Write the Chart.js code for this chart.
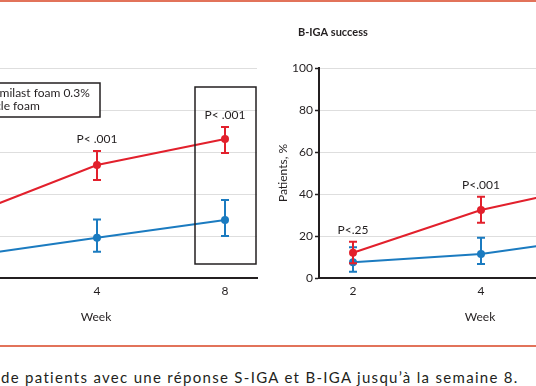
<!DOCTYPE html>
<html>
<head>
<meta charset="utf-8">
<script src="https://cdn.jsdelivr.net/npm/chart.js@4.4.1/dist/chart.umd.min.js"></script>
<style>
  html, body { margin: 0; padding: 0; background: #fff; }
  body { width: 536px; height: 386px; overflow: hidden; position: relative; font-family: Lato, "Open Sans", sans-serif; color: #231f20; }
  .rule { position: absolute; left: 0; width: 536px; height: 2px; background: #e2735a; }
  canvas { position: absolute; top: 0; }
  #caption { position: absolute; left: 1px; top: 368px; font-size: 15px; letter-spacing: 1.3px; white-space: nowrap; }
</style>
</head>
<body>
<div class="rule" style="top:0"></div>
<canvas id="sigaChart" width="372" height="330" style="left:-114px"></canvas>
<canvas id="bigaChart" width="372" height="330" style="left:270px"></canvas>
<div class="rule" style="top:345px"></div>
<div id="caption">de patients avec une réponse S-IGA et B-IGA jusqu’à la semaine 8.</div>

<script>
// weeks on the x axis (drawn at equal spacing)
const weeks = ["2", "4", "8"];
const yTicks = [0, 20, 40, 60, 80, 100];

// S-IGA success (left panel)
const sigaRoflu = [30, 53.8, 66.2];
const sigaRofluLow = [24, 46.7, 59.5];
const sigaRofluHigh = [36, 60.5, 71.9];
const sigaVehicle = [10.5, 19.2, 27.6];
const sigaVehicleLow = [6.5, 12.5, 20];
const sigaVehicleHigh = [15, 27.9, 37.1];
const sigaP = ["", "P< .001", "P< .001"];

// B-IGA success (right panel)
const bigaRoflu = [12, 32.4, 45.7];
const bigaRofluLow = [7, 26.3, 39];
const bigaRofluHigh = [17.3, 38.7, 52];
const bigaVehicle = [7.5, 11.4, 20];
const bigaVehicleLow = [3, 6.7, 13];
const bigaVehicleHigh = [14.6, 19.2, 27];
const bigaP = ["P<.25", "P<.001", "P<.001"];

const RED = "#e2202c";
const BLUE = "#1b7bc0";
const INK = "#231f20";
const FONT = "Lato, 'Open Sans', sans-serif";

/**
 * Draws panel title, error bars, p-values, legend and highlight box
 */
const panelDecor = {
  id: "panelDecor",
  afterDatasetDraw(chart, args) {
    const ds = chart.data.datasets[args.index];
    const x = chart.scales.x;
    const y = chart.scales.y;
    const ctx = chart.ctx;
    ctx.save();
    ctx.strokeStyle = ds.borderColor;
    ctx.lineWidth = 2;
    ds.data.forEach((pt, i) => {
      const px = x.getPixelForValue(pt.x);
      const top = y.getPixelForValue(ds.errHigh[i]);
      const bot = y.getPixelForValue(ds.errLow[i]);
      ctx.beginPath();
      ctx.moveTo(px, top); ctx.lineTo(px, bot);
      ctx.moveTo(px - 4, top); ctx.lineTo(px + 4, top);
      ctx.moveTo(px - 4, bot); ctx.lineTo(px + 4, bot);
      ctx.stroke();
    });
    ctx.restore();
  },
  afterDraw(chart, args, opts) {
    const ctx = chart.ctx;
    const area = chart.chartArea;
    const x = chart.scales.x;
    const y = chart.scales.y;
    ctx.save();

    // title
    ctx.fillStyle = INK;
    ctx.font = "bold 11px " + FONT;
    ctx.textBaseline = "middle";
    ctx.textAlign = "left";
    ctx.fillText(opts.title, area.left - 21, 32);

    // p-values above the highest error bar
    ctx.font = "12px " + FONT;
    ctx.textAlign = "center";
    opts.pValues.forEach((label, i) => {
      if (!label) return;
      const high = Math.max(...chart.data.datasets.map(d => d.errHigh[i]));
      ctx.fillText(label, x.getPixelForValue(i), y.getPixelForValue(high) - 12);
    });

    // highlight box around last week
    if (opts.box) {
      const cx = x.getPixelForValue(weeks.length - 1);
      ctx.strokeStyle = INK;
      ctx.lineWidth = 1.5;
      ctx.strokeRect(cx - 30, 87, 61, 177);
    }

    // legend
    if (opts.legend) {
      const lx = area.left + 6;
      ctx.fillStyle = "#fff";
      ctx.fillRect(lx, 83, 159, 34);
      ctx.strokeStyle = INK;
      ctx.lineWidth = 1.5;
      ctx.strokeRect(lx, 83, 159, 34);
      chart.data.datasets.forEach((d, i) => {
        const ly = 93 + i * 13;
        ctx.strokeStyle = d.borderColor;
        ctx.lineWidth = 2;
        ctx.beginPath();
        ctx.moveTo(lx + 4, ly); ctx.lineTo(lx + 26, ly);
        ctx.stroke();
        ctx.fillStyle = d.borderColor;
        ctx.beginPath();
        ctx.arc(lx + 15, ly, 3.5, 0, Math.PI * 2);
        ctx.fill();
        ctx.fillStyle = INK;
        ctx.textAlign = "left";
        ctx.fillText(d.label, lx + 31, ly);
      });
    }
    ctx.restore();
  },
};

function toPoints(values) {
  return values.map((v, i) => ({ x: i, y: v }));
}

function createPanel(id, title, roflu, rofluLow, rofluHigh, vehicle, vehicleLow, vehicleHigh, pValues, withLegend) {
  const ctx = document.getElementById(id);
  return new Chart(ctx, {
    type: "line",
    data: {
      datasets: [
        {
          label: "Roflumilast foam 0.3%",
          data: toPoints(roflu),
          errLow: rofluLow,
          errHigh: rofluHigh,
          borderColor: RED,
          backgroundColor: RED,
          borderWidth: 2,
          pointRadius: 4,
          pointBorderWidth: 0,
          order: 0,
        },
        {
          label: "Vehicle foam",
          data: toPoints(vehicle),
          errLow: vehicleLow,
          errHigh: vehicleHigh,
          borderColor: BLUE,
          backgroundColor: BLUE,
          borderWidth: 2,
          pointRadius: 4,
          pointBorderWidth: 0,
          order: 1,
        },
      ],
    },
    options: {
      responsive: false,
      animation: false,
      layout: { autoPadding: false, padding: { top: 68, right: 1, left: 0, bottom: 0 } },
      plugins: {
        legend: { display: false },
        tooltip: { enabled: false },
        panelDecor: { title: title, pValues: pValues, box: withLegend, legend: withLegend },
      },
      scales: {
        x: {
          type: "linear",
          min: -34 / 128,
          max: weeks.length - 1 + 32 / 128,
          afterBuildTicks(scale) {
            scale.ticks = weeks.map((w, i) => ({ value: i }));
          },
          afterFit(scale) {
            scale.height = 52;
            scale.paddingLeft = 0;
            scale.paddingRight = 0;
          },
          grid: { display: false, drawTicks: false },
          border: { color: INK, width: 2 },
          ticks: {
            padding: 6,
            color: INK,
            font: { size: 12, family: FONT },
            callback: (v) => weeks[v],
          },
          title: { display: true, text: "Week", color: INK, font: { size: 12, family: FONT }, padding: { top: 0, bottom: 6 } },
        },
        y: {
          min: 0,
          max: 100,
          afterBuildTicks(scale) {
            scale.ticks = yTicks.map((v) => ({ value: v }));
          },
          afterFit(scale) {
            scale.width = 49;
            scale.paddingTop = 0;
            scale.paddingBottom = 0;
          },
          grid: { color: "#dedede", lineWidth: 1, tickLength: 4, tickColor: INK, tickWidth: 1.5 },
          border: { color: INK, width: 2 },
          ticks: { padding: 2, color: INK, font: { size: 12, family: FONT } },
          title: { display: true, text: "Patients, %", color: INK, font: { size: 12, family: FONT }, padding: { top: 6, bottom: 0 } },
        },
      },
    },
    plugins: [panelDecor],
  });
}

document.addEventListener("DOMContentLoaded", () => {
  createPanel("sigaChart", "S-IGA success", sigaRoflu, sigaRofluLow, sigaRofluHigh,
    sigaVehicle, sigaVehicleLow, sigaVehicleHigh, sigaP, true);
  createPanel("bigaChart", "B-IGA success", bigaRoflu, bigaRofluLow, bigaRofluHigh,
    bigaVehicle, bigaVehicleLow, bigaVehicleHigh, bigaP, false);
});
</script>
</body>
</html>
